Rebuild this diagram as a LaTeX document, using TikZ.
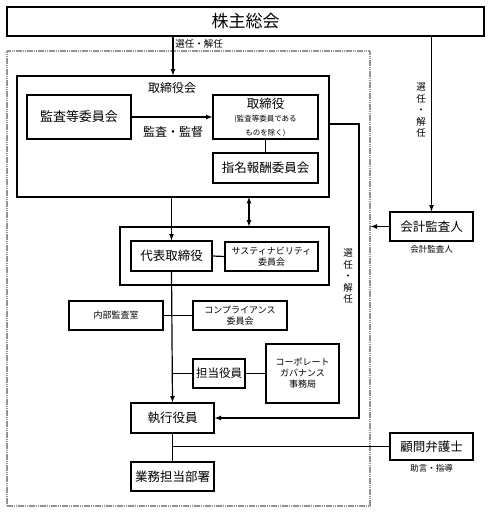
\documentclass[tikz,border=0pt]{standalone}
\usepackage{fontspec}
\setmainfont{Noto Sans CJK JP}
\usetikzlibrary{positioning,arrows,calc}
\tikzset{
>=latex,
  box/.style={
    rectangle,
    draw=black, line width=1.2pt,
    inner sep=0pt,
    align=center,
    font=\fontsize{12.5}{14}\selectfont},
  smallbox/.style={
    box,
    font=\fontsize{9}{11}\selectfont},
  line/.style={draw, line width=1.2pt},
  note/.style={inner sep=0pt, align=center, font=\fontsize{9.5}{11.5}\selectfont},
}

\begin{document}
\begin{tikzpicture}[x=1pt,y=-1pt,
	outerframe/.style={rectangle, draw=gray!85, line width=1.4pt, dash pattern=on 1.6pt off 0.6pt, inner sep=0pt},
	frame/.style={rectangle, draw=black, line width=1.2pt, inner sep=0pt}]

	\useasboundingbox (0,0) rectangle (490,512);

	% shareholders and outer frame
	\node [box, minimum width=477pt, minimum height=29pt, font=\fontsize{17}{19}\selectfont] (soukai) at (245.5,21.5) {株主総会};
	\node [outerframe, minimum width=363pt, minimum height=455pt] (outer) at (188.5,278.5) {};

	% board
	\node [frame, minimum width=312pt, minimum height=121pt] (board) at (173,136.5) {};
	\node [note, font=\fontsize{12}{14}\selectfont] (boardlabel) at (172,88) {取締役会};
	\node [box, minimum width=104pt, minimum height=44pt, font=\fontsize{13}{15}\selectfont] (kansa) at (79,117) {監査等委員会};
	\node [box, minimum width=105pt, minimum height=44pt] (director) at (265.5,117)
		{取締役\\[-1pt]\fontsize{7.5}{9}\selectfont (監査等委員である\\\fontsize{7.5}{9}\selectfont ものを除く)};
	\node [box, minimum width=105pt, minimum height=30pt] (shimei) at (265.5,168) {指名報酬委員会};
	\node [note, font=\fontsize{12}{14}\selectfont] (kantoku) at (173,132) {監査・監督};

	% representative director
	\node [frame, minimum width=209pt, minimum height=58pt] (daihyoframe) at (224.5,256) {};
	\node [box, minimum width=81pt, minimum height=30pt] (daihyo) at (171.5,256) {代表取締役};
	\node [smallbox, minimum width=93pt, minimum height=29pt] (sustain) at (271.5,256.5) {サスティナビリティ\\委員会};

	% execution side
	\node [smallbox, minimum width=94pt, minimum height=29pt] (naibu) at (116,315.5) {内部監査室};
	\node [smallbox, minimum width=94pt, minimum height=29pt] (compliance) at (240,315.5) {コンプライアンス\\委員会};
	\node [box, minimum width=52pt, minimum height=29pt, font=\fontsize{11.5}{13}\selectfont] (tanto) at (219,373.5) {担当役員};
	\node [smallbox, minimum width=73pt, minimum height=59pt] (cgoffice) at (302.5,373.5) {コーポレート\\ガバナンス\\事務局};
	\node [box, minimum width=83pt, minimum height=30pt] (shikko) at (172.5,418) {執行役員};
	\node [box, minimum width=83pt, minimum height=29pt] (gyomu) at (172.5,476.5) {業務担当部署};

	% outside
	\node [box, minimum width=83pt, minimum height=29pt] (kaikei) at (431.5,226.5) {会計監査人};
	\node [note, font=\fontsize{8.5}{10}\selectfont, below=4pt of kaikei] (kaikeilabel) {会計監査人};
	\node [box, minimum width=83pt, minimum height=27pt] (komon) at (431.5,446.5) {顧問弁護士};
	\node [note, font=\fontsize{8.5}{10}\selectfont, below=4pt of komon] (komonlabel) {助言・指導};

	% election labels
	\node [note] (senninA) at (199,44) {選任・解任};
	\node [note] (senninB) at (421,110) {選\\任\\・\\解\\任};
	\node [note] (senninC) at (348,276) {選\\任\\・\\解\\任};

	\coordinate (dbl) at (249,197);
	\coordinate (loop) at (359,124);

	% connectors
	\draw [line, ->] (soukai.south -| board.north) -- (board.north);
	\draw [line, ->] (soukai.south -| kaikei.north) -- (kaikei.north);
	\draw [line, ->] (kaikei.west) -- (kaikei.west -| outer.east);
	\draw [line, ->] (kansa.east) -- (director.west);
	\draw [line] (director.south) -- (shimei.north);
	\draw [line, ->] (board.south -| daihyo.north) -- (daihyo.north);
	\draw [line, <->] (dbl) -- (dbl |- daihyoframe.north);
	\draw [line] (daihyo.east) -- (sustain.west);
	\draw [line, ->] (daihyo.south) -- (shikko.north);
	\draw [line] (naibu.east) -- (compliance.west);
	\draw [line] (daihyo.south |- tanto.west) -- (tanto.west);
	\draw [line] (tanto.east) -- (cgoffice.west);
	\draw [line, ->] (board.east |- loop) -- (loop) |- (shikko.east);
	\draw [line] (shikko.south) -- (gyomu.north);
	\draw [line] (shikko.south |- komon.west) -- (komon.west);
\end{tikzpicture}
\end{document}
